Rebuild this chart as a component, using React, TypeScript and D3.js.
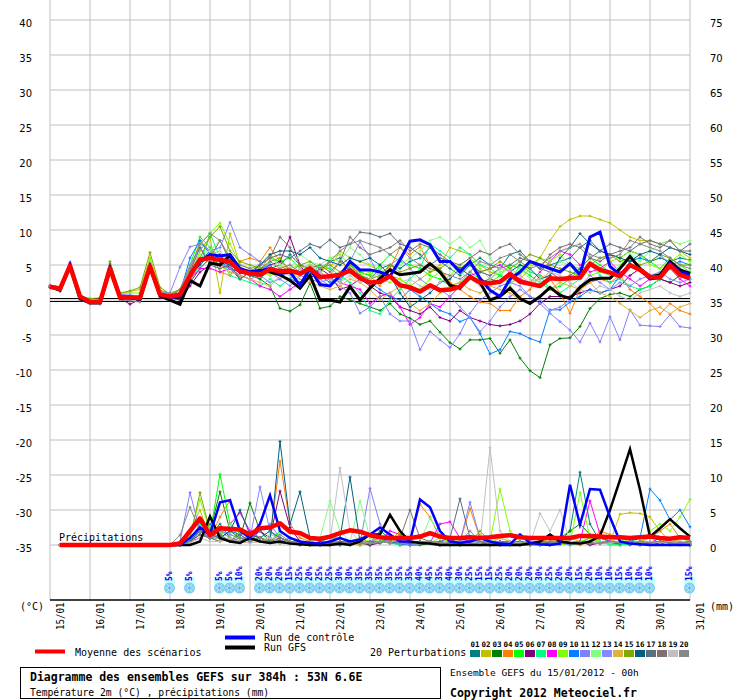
import React from 'react';
import * as d3 from 'd3';

// axis / labels
const dayLabels = ["15/01", "16/01", "17/01", "18/01", "19/01", "20/01", "21/01", "22/01", "23/01",
    "24/01", "25/01", "26/01", "27/01", "28/01", "29/01", "30/01", "31/01"];
const tempTicks = [40, 35, 30, 25, 20, 15, 10, 5, 0, -5, -10, -15, -20, -25, -30, -35];
const mmTicks = [75, 70, 65, 60, 55, 50, 45, 40, 35, 30, 25, 20, 15, 10, 5, 0];
const memberIds = ["01", "02", "03", "04", "05", "06", "07", "08", "09", "10",
    "11", "12", "13", "14", "15", "16", "17", "18", "19", "20"];
const memberColors = ["#008080", "#c0c000", "#008000", "#ff8000", "#00ff00", "#800080", "#00ff80", "#ff00ff",
    "#80ff00", "#0080ff", "#8080ff", "#80ff80", "#8888ff", "#e0b040", "#80a800", "#006080", "#587080",
    "#807070", "#c0c0c0", "#888888"];

// 2m temperature (°C), every 6h from 15/01 00h to 31/01 00h
const tempMean = [1.9, 1.6, 4.9, 0.5, -0.3, -0.3, 4.5, 0.4, 0.4, 0.3, 4.8, 0.8,
    0.5, 0.8, 3.5, 5.8, 6.0, 5.7, 5.5, 4.1, 3.8, 3.6, 4.4, 4.1, 4.2, 3.8, 4.5, 3.3,
    3.4, 3.6, 4.2, 3.1, 2.5, 2.6, 3.4, 2.1, 1.8, 1.2, 2.1, 1.4, 1.5, 1.9, 3.3, 2.5,
    2.4, 2.6, 3.7, 2.6, 2.3, 2.0, 3.1, 3.0, 3.1, 3.2, 5.2, 4.3, 3.9, 3.4, 5.0, 4.3,
    3.3, 3.2, 5.0, 3.6, 3.1];
const tempControl = [1.9, 1.5, 5.0, 0.3, -0.3, -0.3, 4.6, 0.4, 0.4, 0.2, 4.8, 0.7,
    0.4, 0.5, 3.5, 5.5, 6.5, 6.3, 6.5, 4.5, 4.0, 4.2, 4.5, 3.8, 4.0, 2.1, 4.5, 2.2,
    2.0, 3.5, 5.5, 4.3, 4.3, 4.0, 3.4, 5.7, 8.4, 8.6, 7.9, 5.5, 5.5, 4.0, 5.5, 3.1,
    1.4, 0.5, 3.0, 4.0, 5.5, 5.0, 4.5, 4.0, 5.2, 3.6, 9.0, 9.7, 4.8, 3.6, 5.0, 4.3,
    3.0, 3.2, 5.3, 4.0, 3.6];
const tempGfs = [1.9, 1.4, 4.8, 0.2, -0.4, -0.4, 4.4, 0.3, 0.3, 0.1, 4.7, 0.6,
    0.0, -0.6, 2.8, 2.0, 5.3, 5.0, 6.4, 4.0, 4.0, 4.2, 4.0, 3.6, 2.8, 1.7, 3.5, 0.0,
    0.0, -0.3, 1.9, 0.0, 1.7, 3.1, 4.3, 3.6, 3.8, 4.0, 5.2, 4.0, 2.1, 1.7, 3.3, 2.5,
    0.0, 0.5, 1.7, 0.2, -0.5, 0.5, 1.8, 0.7, 0.2, 1.8, 2.9, 3.1, 3.1, 4.5, 6.2, 4.5,
    3.3, 3.6, 5.5, 4.3, 3.8];
const temp01 = [2.0, 1.5, 5.1, 0.2, -0.4, -0.4, 4.5, 0.5, 0.4, 0.2, 4.9, 0.9,
    0.5, 1.0, 3.0, 5.5, 7.0, 6.0, 5.0, 4.0, 3.5, 3.0, 4.5, 5.0, 6.5, 5.0, 4.5, 4.0,
    5.5, 6.0, 4.0, 3.5, 3.0, 4.5, 5.0, 4.5, 5.5, 6.0, 7.5, 5.5, 4.5, 3.5, 5.0, 6.0,
    5.0, 4.5, 6.5, 7.0, 5.5, 4.5, 5.0, 5.5, 6.0, 7.5, 8.5, 7.0, 6.5, 6.0, 7.0, 6.5,
    5.5, 6.0, 5.5, 6.0, 5.7];
const temp02 = [2.0, 1.7, 5.2, 0.4, -0.2, -0.2, 4.7, 0.9, 1.2, 1.5, 6.0, 1.4,
    1.0, 1.5, 3.5, 7.0, 9.0, 1.0, 9.5, 5.0, 4.5, 4.0, 6.5, 5.0, 4.0, 3.5, 5.0, 4.5,
    4.5, 7.0, 6.0, 5.5, 5.0, 4.0, 3.5, 3.0, 2.0, 3.0, 4.0, 5.0, 7.5, 7.0, 6.5, 5.0,
    4.0, 3.5, 2.5, 3.0, 4.5, 6.0, 8.5, 10.5, 11.5, 12.0, 12.0, 11.5, 11.0, 10.0, 9.0, 8.5,
    8.5, 8.0, 8.5, 7.0, 6.0];
const temp03 = [1.9, 1.6, 5.0, 0.2, -0.3, -0.4, 4.6, 0.4, 0.3, 0.2, 4.7, 0.7,
    0.5, 0.5, 2.5, 4.5, 6.0, 5.0, 4.5, 3.0, 4.0, 3.0, 2.0, -1.2, -1.6, -0.7, 2.4, -1.2,
    -0.9, 0.5, 0.0, -0.5, -1.0, -1.5, -0.5, -2.0, -2.6, -3.5, -3.0, -4.6, -6.1, -7.0, -5.7, -5.7,
    -5.5, -7.6, -5.7, -8.3, -10.1, -11.1, -6.4, -5.5, -5.4, -3.8, -1.2, 0.2, 0.8, 1.0, 0.5, 1.5,
    2.0, 3.0, 2.5, 3.5, 3.0];
const temp04 = [1.9, 1.6, 5.0, 0.3, -0.3, -0.3, 4.6, 0.4, 0.4, 0.3, 4.8, 0.8,
    0.5, 1.0, 4.0, 8.5, 7.0, 4.0, 3.5, 5.5, 6.0, 5.5, 7.5, 5.5, 4.5, 3.5, 4.0, 3.0,
    3.5, 5.5, 4.5, 4.0, 3.5, 2.0, 4.5, 7.5, 6.5, 7.6, 5.0, 4.5, 2.5, 1.5, 0.5, -0.3,
    -0.5, -1.5, -1.5, 0.5, 1.5, 3.5, 3.0, 1.0, -1.9, 1.5, 2.5, 3.0, 2.5, 3.5, 1.5, 0.5,
    -0.5, -2.0, -0.5, -1.5, -2.0];
const temp05 = [1.9, 1.6, 5.0, 0.3, -0.3, -0.3, 4.6, 0.4, 0.4, 0.3, 4.8, 0.8,
    0.5, 1.5, 5.0, 9.0, 7.5, 6.0, 6.5, 4.0, 4.5, 5.0, 6.0, 5.5, 6.0, 4.5, 5.0, 3.5,
    3.0, 2.5, 5.0, 4.0, 3.5, 5.0, 6.5, 5.5, 5.0, 4.5, 3.5, 3.0, 2.0, 2.5, 4.0, 3.0,
    2.5, 3.5, 5.0, 4.5, 3.5, 2.5, 1.5, 2.0, 3.0, 4.5, 6.0, 5.0, 4.0, 3.5, 5.5, 6.0,
    5.5, 4.5, 6.0, 5.0, 4.0];
const temp06 = [1.8, 1.5, 4.9, 0.2, -0.4, -0.4, 4.5, 0.2, -0.6, 0.1, 4.7, 0.3,
    0.3, 0.0, 2.0, 4.0, 5.0, 6.5, 4.5, 4.0, 3.5, 4.0, 5.0, 5.5, 9.0, 5.0, 3.0, 4.5,
    3.5, 1.5, 2.0, 3.0, 2.0, 1.0, 0.5, -1.0, -1.5, -2.0, -1.0, -2.5, -3.0, -1.5, -2.5, -3.0,
    -3.5, -3.7, -3.5, -3.0, -2.0, -0.5, 0.5, 0.5, 0.5, 1.0, 1.5, 1.0, 1.5, 2.0, 3.5, 4.5,
    3.5, 3.0, 2.5, 2.0, 2.5];
const temp07 = [1.9, 1.6, 5.0, 0.3, -0.3, -0.3, 4.6, 0.4, 0.4, 0.3, 4.8, 0.8,
    0.5, 0.5, 2.7, 5.0, 9.6, 6.0, 3.5, 3.0, 2.5, 2.0, 3.0, 2.0, 3.0, 4.5, 3.5, 5.0,
    4.5, 3.5, 2.5, 1.0, -1.5, -2.0, 0.0, 1.5, 3.0, 4.5, 8.0, 7.0, 6.0, 7.5, 6.5, 5.0,
    4.5, 3.5, 2.5, 5.0, 4.0, 3.5, 1.5, 1.0, 2.0, 3.0, 5.0, 3.5, 2.5, 3.0, 2.0, 1.5,
    2.0, 3.0, 4.5, 4.5, 3.0];
const temp08 = [2.1, 1.9, 5.4, 0.5, -0.1, -0.1, 4.7, 0.7, 0.6, 0.5, 5.0, 0.9,
    0.5, 1.5, 3.0, 4.5, 4.5, 4.0, 4.5, 3.5, 3.0, 2.0, 1.5, 0.5, 1.5, 2.5, 3.5, 4.0,
    3.0, 2.5, 2.0, 1.5, -0.5, 0.5, 1.0, -1.0, -3.5, -2.5, -0.5, -1.0, 0.5, 2.0, 3.5, 4.0,
    4.5, 5.0, 4.0, 3.0, 2.5, 4.0, 5.5, 7.0, 6.5, 5.0, 4.0, 4.5, 5.5, 4.0, 3.0, 2.0,
    3.0, 3.5, 4.5, 3.0, 2.0];
const temp09 = [2.0, 1.6, 5.2, 0.4, -0.2, -0.2, 5.2, 0.9, 1.0, 1.0, 5.8, 1.2,
    0.8, 1.5, 4.5, 8.0, 9.5, 11.0, 8.0, 5.0, 4.5, 4.0, 3.5, 4.0, 4.5, 5.0, 4.0, 3.5,
    6.0, 6.5, 5.0, 3.5, 4.0, 3.0, 2.5, 3.0, 2.0, 1.5, 3.0, 4.0, 3.5, 5.0, 6.0, 4.5,
    3.0, 4.0, 4.5, 3.5, 5.0, 6.0, 5.5, 6.5, 5.0, 4.5, 3.5, 4.0, 5.5, 6.0, 7.0, 6.5,
    5.0, 4.5, 5.5, 6.5, 5.5];
const temp10 = [1.9, 1.6, 5.0, 0.3, -0.3, -0.3, 4.6, 0.4, 0.4, 0.3, 4.8, 0.8,
    0.5, 1.0, 6.0, 8.5, 6.5, 5.5, 4.5, 4.0, 3.5, 4.5, 5.0, 3.5, 3.0, 2.5, 4.0, 3.5,
    2.5, 3.0, 4.5, 3.5, 2.5, 1.5, 0.5, 0.0, 1.5, 0.5, -0.5, -1.5, -2.0, -3.1, -2.5, -4.8,
    -7.7, -7.1, -4.5, -4.8, -5.5, -6.0, -1.4, -1.4, -0.3, 0.5, 1.5, 1.0, 1.5, 3.5, 5.5, 6.0,
    5.5, 6.5, 5.0, 5.5, 5.0];
const temp11 = [2.0, 1.8, 5.2, 0.5, 0.0, 0.0, 4.8, 0.8, 0.7, 0.6, 5.0, 1.2,
    1.0, 4.7, 7.6, 8.0, 7.0, 7.5, 11.1, 7.5, 6.5, 5.5, 4.0, 3.0, 4.5, 3.5, 3.0, 2.5,
    3.0, 2.0, 1.0, -1.9, -1.0, 0.5, -2.0, -3.0, -3.0, -7.1, -4.5, -5.7, -6.8, -4.8, -1.9, 0.0,
    1.0, 2.0, 2.5, 2.0, 0.5, -0.5, -1.9, -3.1, -4.3, -6.0, -3.3, -6.0, -2.4, -5.7, -1.4, -3.6,
    -3.7, -3.8, -2.1, -3.8, -4.0];
const temp12 = [1.9, 1.6, 5.0, 0.3, -0.3, -0.3, 4.6, 0.4, 0.4, 0.3, 4.8, 0.8,
    0.5, 1.0, 4.0, 6.5, 7.0, 8.5, 6.0, 4.5, 4.0, 5.0, 6.0, 5.0, 4.5, 6.5, 5.5, 5.0,
    6.0, 5.5, 7.5, 6.5, 5.0, 4.5, 3.5, 5.0, 6.0, 7.0, 8.5, 9.0, 8.0, 9.0, 7.5, 8.5,
    6.0, 4.0, 2.0, 4.5, 3.0, 2.5, 4.0, 5.5, 5.0, 3.0, 5.5, 4.0, 3.5, 5.0, 6.5, 5.5,
    7.0, 8.0, 8.5, 8.0, 8.5];
const temp13 = [1.9, 1.6, 5.0, 0.3, -0.3, -0.3, 4.6, 0.4, 0.4, 0.3, 4.8, 0.8,
    0.8, 1.5, 5.0, 7.5, 5.5, 5.0, 4.5, 3.5, 3.0, 3.5, 2.5, 3.0, 2.0, 3.5, 4.0, 3.0,
    2.0, 3.0, 5.5, 8.3, 6.0, 3.0, 5.0, 6.0, 4.5, 3.0, 2.0, 1.5, 0.5, -1.0, -2.5, -4.5,
    -3.0, -1.0, 0.5, 1.5, 0.5, 0.0, -1.5, -1.0, 0.0, 2.0, 3.5, 2.5, 1.5, 2.5, 2.0, 3.0,
    3.5, 4.0, 3.0, 2.5, 3.0];
const temp14 = [1.9, 1.6, 5.0, 0.3, -0.3, -0.3, 4.6, 0.4, 0.4, 0.3, 4.8, 0.8,
    0.5, 1.5, 4.5, 5.5, 6.5, 5.0, 4.0, 3.5, 3.0, 2.5, 2.0, 3.5, 4.0, 3.0, 2.5, 2.0,
    1.5, 2.0, 3.0, 2.5, 1.5, 0.0, 1.0, 2.0, -0.5, -1.5, -0.5, 1.0, 2.0, 2.5, 1.5, 1.0,
    2.0, 1.5, 1.0, 0.0, -0.5, 0.5, 1.5, 2.5, 2.0, 1.5, 2.5, 1.0, 0.5, -0.5, -1.5, -2.5,
    -1.5, -1.0, -2.0, -1.0, -0.5];
const temp15 = [2.0, 1.7, 5.2, 0.6, 0.2, 0.3, 5.5, 1.0, 1.3, 1.8, 6.8, 1.8,
    0.8, 1.5, 3.0, 6.0, 9.0, 10.5, 7.0, 5.5, 5.0, 4.5, 5.5, 6.0, 4.0, 5.0, 5.5, 4.5,
    5.0, 4.0, 5.0, 3.5, 3.0, 3.5, 5.0, 4.0, 4.5, 5.0, 4.0, 4.5, 5.5, 4.5, 5.5, 4.0,
    4.5, 5.5, 4.5, 5.5, 6.5, 6.0, 5.0, 4.5, 4.0, 3.5, 5.0, 6.0, 6.5, 5.5, 6.0, 5.0,
    5.5, 6.5, 6.0, 5.0, 5.0];
const temp16 = [1.9, 1.6, 5.0, 0.3, -0.3, -0.3, 4.6, 0.4, 0.4, 0.3, 4.8, 0.8,
    0.5, 1.0, 3.5, 5.0, 6.5, 5.5, 5.0, 4.5, 4.0, 5.0, 6.5, 7.0, 7.0, 6.5, 7.5, 6.0,
    5.5, 5.0, 6.0, 5.5, 6.0, 5.0, 3.5, 1.0, -1.0, 0.0, 1.0, 2.5, 3.0, 4.5, 3.5, 2.5,
    3.0, 2.5, 4.0, 5.0, 4.5, 3.0, 3.5, 6.0, 7.5, 9.5, 8.0, 7.0, 6.5, 6.0, 5.5, 6.5,
    7.0, 6.5, 7.5, 7.0, 6.5];
const temp17 = [1.9, 1.6, 5.0, 0.3, -0.3, -0.3, 4.6, 0.4, 0.4, 0.3, 4.8, 0.8,
    0.5, 1.0, 4.0, 7.5, 5.0, 4.5, 5.0, 3.0, 4.0, 5.0, 6.0, 6.5, 6.0, 7.0, 8.0, 7.5,
    8.6, 7.5, 8.0, 9.7, 9.5, 9.0, 9.5, 8.0, 7.5, 6.5, 5.0, 6.0, 5.5, 4.5, 5.0, 4.0,
    3.5, 4.5, 5.0, 6.0, 5.5, 4.5, 4.0, 3.0, 3.5, 4.5, 6.0, 7.0, 8.0, 7.5, 7.0, 8.0,
    8.5, 8.0, 7.5, 7.0, 8.0];
const temp18 = [1.9, 1.6, 5.0, 0.3, -0.3, -0.3, 4.6, 0.4, 0.4, 0.3, 4.8, 0.8,
    0.5, 1.0, 3.0, 5.5, 6.0, 8.5, 5.5, 4.5, 3.5, 5.0, 6.0, 9.0, 7.5, 5.0, 4.5, 5.0,
    4.0, 5.5, 9.0, 7.5, 6.5, 7.0, 7.5, 8.5, 7.0, 8.0, 7.5, 6.5, 5.5, 5.0, 6.0, 7.0,
    6.5, 7.5, 8.0, 6.5, 5.5, 4.5, 6.5, 7.5, 8.0, 7.5, 6.0, 5.5, 6.5, 7.0, 7.5, 9.0,
    8.0, 7.5, 8.5, 7.0, 7.0];
const temp19 = [1.9, 1.6, 5.0, 0.3, -0.3, -0.3, 4.6, 0.4, 0.4, 0.3, 4.8, 0.8,
    0.5, 0.5, 3.0, 5.5, 6.5, 7.0, 5.5, 4.5, 4.0, 3.5, 4.5, 4.0, 3.5, 4.5, 5.0, 4.0,
    3.0, 2.5, 3.5, 2.5, 3.0, 4.0, 3.5, 2.5, 3.0, 2.0, 1.5, 2.5, 3.5, 4.0, 3.0, 2.0,
    3.0, 4.5, 4.0, 3.5, 2.5, 3.0, 4.0, 3.5, 2.5, 1.5, 1.0, 2.0, 1.5, 0.5, 0.0, 1.0,
    1.5, 2.0, 1.0, 0.5, 1.0];
const temp20 = [1.8, 1.2, 4.7, 0.0, -0.6, -0.6, 4.3, 0.0, -0.1, -0.3, 4.5, 0.5,
    0.5, 1.5, 4.5, 8.0, 9.5, 8.5, 6.0, 5.0, 4.5, 4.0, 5.5, 4.5, 5.0, 4.0, 3.5, 4.5,
    5.5, 7.0, 8.0, 8.5, 8.0, 7.5, 6.5, 7.5, 6.0, 5.0, 4.5, 4.0, 3.5, 3.0, 4.0, 5.5,
    5.0, 6.0, 6.5, 5.5, 4.5, 5.0, 6.0, 7.0, 7.5, 8.0, 6.5, 6.0, 6.0, 6.5, 8.5, 8.0,
    7.5, 7.0, 6.0, 5.0, 4.5];

// precipitation (mm / 6h), from 15/01 06h to 31/01 00h
const precipMean = [0, 0, 0, 0, 0, 0, 0, 0, 0, 0, 0, 0,
    0.2, 2.0, 3.8, 1.4, 2.4, 2.3, 2.2, 1.5, 2.4, 2.5, 3.1, 1.9, 1.7, 1.0, 0.9, 1.2,
    1.7, 2.1, 1.9, 1.4, 1.1, 1.0, 1.0, 1.0, 1.2, 1.7, 1.2, 1.0, 1.0, 1.1, 1.0, 1.1,
    1.3, 1.4, 1.1, 1.0, 1.0, 1.0, 1.0, 1.0, 1.3, 1.3, 1.2, 1.1, 1.1, 1.0, 1.1, 1.2,
    1.0, 0.9, 1.1, 1.0];
const precipControl = [0, 0, 0, 0, 0, 0, 0, 0, 0, 0, 0, 0,
    0, 1.0, 2.5, 1.5, 6.1, 6.4, 2.0, 1.0, 3.0, 7.1, 2.0, 1.0, 0.5, 0.3, 0.2, 0.5,
    1.0, 0.5, 0.8, 1.5, 2.5, 1.5, 0.5, 0.5, 6.5, 5.4, 2.0, 0.5, 0.3, 0.5, 1.0, 0.5,
    0.2, 0.1, 1.5, 0.3, 0.1, 0, 0.2, 8.6, 2.9, 8.0, 7.9, 4.0, 0.5, 0.2, 0.1, 0,
    0, 0, 0, 0];
const precipGfs = [0, 0, 0, 0, 0, 0, 0, 0, 0, 0, 0, 0,
    0, 0, 0.5, 4.1, 1.0, 0.5, 0.3, 1.0, 0.5, 0.3, 0.5, 0.2, 0.1, 0, 0, 0,
    0.2, 0, 0.5, 1.5, 1.5, 4.3, 2.0, 0.5, 0.3, 0.2, 0, 0, 0, 0, 0, 0,
    0, 0, 0, 0.2, 0.5, 1.5, 0.5, 0.3, 0.2, 0.5, 1.3, 5.0, 9.3, 13.7, 7.9, 1.2,
    2.4, 3.7, 2.4, 1.2];
const precip01 = [0, 0, 0, 0, 0, 0, 0, 0, 0, 0, 0, 0,
    0, 1, 2, 1.5, 3, 1, 0.5, 1, 2, 0.5, 0.3, 1, 0.5, 0, 0.5, 1,
    1, 0.5, 0, 0.3, 2, 1, 0.5, 0, 0.3, 0.5, 0.2, 0, 0, 0.5, 1, 0.3,
    0.5, 0, 0.3, 0.5, 0.2, 0, 1, 2, 10.4, 3, 0.5, 0.3, 0.2, 0, 0.3, 0.5,
    0.2, 0, 0.3, 0.5];
const precip02 = [0, 0, 0, 0, 0, 0, 0, 0, 0, 0, 0, 0,
    0, 2, 5, 1, 1.5, 0.5, 0.3, 1, 0.5, 1, 0.3, 0.5, 0, 0.3, 0, 0.5,
    0.2, 0, 0.3, 0.5, 0.5, 1, 0.3, 0, 0.5, 0.3, 0, 0.2, 0, 0.5, 1.5, 0.5,
    0, 0.3, 0, 0.5, 0.3, 1, 0.5, 0.2, 0.5, 1, 0.5, 0.3, 4.4, 4.6, 4.5, 4.0,
    2, 0.5, 0.3, 0.2];
const precip03 = [0, 0, 0, 0, 0, 0, 0, 0, 0, 0, 0, 0,
    0, 0.5, 3, 2, 7.6, 2, 1, 6, 2, 0.5, 0.3, 0.2, 0, 0.3, 0, 0,
    0.2, 0, 0.5, 0, 0.5, 1, 0.3, 0, 0, 0.2, 0.5, 0.3, 0, 0.2, 0, 0.5,
    0.3, 0.5, 0, 0, 0, 0.3, 0.5, 2, 3, 1.5, 1, 0.5, 0, 0.3, 0.5, 0.2,
    0.5, 0.3, 0, 0.2];
const precip04 = [0, 0, 0, 0, 0, 0, 0, 0, 0, 0, 0, 0,
    0, 1, 2, 1, 4, 6.4, 2, 1, 0.5, 1, 12, 3, 1, 0.5, 0.3, 0,
    0.2, 0.5, 1, 0.3, 1, 0.5, 2, 0.5, 5.8, 4, 1, 0.5, 0.5, 5.2, 1, 0.3,
    0.5, 0.3, 0, 0.5, 0.5, 0, 0.3, 0.5, 0, 0.5, 2, 1.5, 0.5, 0.3, 0.5, 1,
    2, 3, 1, 0.5];
const precip05 = [0, 0, 0, 0, 0, 0, 0, 0, 0, 0, 0, 0,
    0, 0.5, 2, 1.5, 10.1, 3, 1, 0.5, 1, 0.5, 2, 1, 0.3, 0, 0.2, 0,
    0, 0.5, 0.3, 0, 0.5, 1, 0, 0.3, 0.5, 0.2, 0, 0, 0.3, 0.5, 0.2, 0,
    0.5, 0, 0.2, 0.3, 0, 0.5, 0.2, 0, 0.3, 1, 0.5, 0.2, 0, 0.3, 0, 0.2,
    0.5, 0.3, 0.2, 0];
const precip06 = [0, 0, 0, 0, 0, 0, 0, 0, 0, 0, 0, 0,
    0, 0.5, 1.5, 1, 2, 1, 0.5, 1, 2, 1, 7.7, 2.5, 0.5, 0.3, 0, 0.2,
    0, 0.5, 0.2, 0, 0.3, 0.5, 0, 0.2, 0.5, 0.3, 0, 0.5, 1, 0.5, 0.2, 0,
    0, 0.3, 0.5, 0.2, 0, 0.2, 0.5, 0.3, 0.5, 0, 0.3, 0.2, 0.5, 0.2, 0, 0.3,
    0.2, 0.5, 0.3, 0];
const precip07 = [0, 0, 0, 0, 0, 0, 0, 0, 0, 0, 0, 0,
    0, 0.5, 3, 1, 2, 1.5, 1, 0.5, 1, 0.5, 1, 0.5, 0.3, 0, 0, 0,
    0, 0.2, 0, 0.3, 0.5, 0.3, 0, 0, 0.5, 0.3, 0.5, 0, 0, 0.3, 0.5, 0.5,
    0.2, 0, 0.3, 0, 0, 0.5, 0.3, 0.2, 0.5, 0.2, 0.5, 0, 0, 0.2, 0.5, 0.3,
    1, 0.5, 0.2, 0];
const precip08 = [0, 0, 0, 0, 0, 0, 0, 0, 0, 0, 0, 0,
    0, 0.5, 1, 2, 1.5, 3, 4.6, 2, 1, 0.5, 1, 0.5, 0.5, 0.3, 0, 0,
    0.3, 0.5, 0.2, 0.5, 0.5, 2, 1.5, 0.5, 0.5, 0.3, 3, 3.3, 1, 0.3, 0.5, 0.2,
    0.5, 0.3, 0.5, 0, 0.3, 0.5, 1, 0.5, 0.5, 6.3, 1.5, 0.5, 0.3, 0.5, 0.2, 0.3,
    1, 0.5, 0.3, 0.5];
const precip09 = [0, 0, 0, 0, 0, 0, 0, 0, 0, 0, 0, 0,
    0, 1.5, 6.5, 2, 2, 1, 0.5, 1.5, 1, 0.5, 0.3, 1, 0.5, 0.2, 0, 0.3,
    0.5, 0.3, 1, 0.5, 1, 0.3, 0.5, 0.2, 0.5, 0.3, 1, 0.5, 0, 0.5, 0.3, 0.5,
    8, 2, 0.5, 0.3, 0.5, 0.3, 0, 0.2, 7.5, 1, 0.5, 0.3, 0.5, 1, 0.3, 2,
    3, 2, 4, 6.5];
const precip10 = [0, 0, 0, 0, 0, 0, 0, 0, 0, 0, 0, 0,
    0, 0.5, 2, 3, 1, 2, 1.5, 0.5, 1, 2, 1, 0.5, 0.5, 0.3, 0, 0.2,
    0, 0.5, 0.3, 0.2, 0.5, 0.3, 0.2, 0, 0.5, 0.3, 0, 0.2, 0, 0.5, 0.3, 0.2,
    0, 0.3, 0.5, 0.3, 0.5, 0, 0.3, 0.5, 0.5, 0.3, 0.5, 0.3, 0.2, 0.5, 1, 8,
    6.4, 3.6, 5.0, 2.6];
const precip11 = [0, 0, 0, 0, 0, 0, 0, 0, 0, 0, 0, 0,
    0.5, 7.5, 2, 1, 1.5, 0.5, 1, 0.5, 2, 3, 1, 0.5, 0.3, 0.5, 0, 0.3,
    0.5, 0.3, 0.2, 8.1, 3, 1, 0.5, 0.3, 0.5, 0.3, 0.2, 0.5, 0.5, 6.1, 1, 0.5,
    0.3, 0.5, 0.2, 0, 0.3, 0.5, 0.2, 0.5, 0.5, 0.3, 0.2, 0.5, 0.3, 0.5, 0.2, 0,
    0.5, 0.3, 0.5, 0.2];
const precip12 = [0, 0, 0, 0, 0, 0, 0, 0, 0, 0, 0, 0,
    0, 0.5, 2, 1.5, 1, 3, 2, 1, 0.5, 1.5, 1, 0.5, 0.3, 0.5, 1, 6.3,
    2, 0.5, 6.3, 1, 0.5, 0.3, 0.2, 0.5, 0.5, 3.8, 1.5, 1, 0.5, 0.3, 0.2, 0.5,
    1, 0.5, 0.3, 0.5, 0.2, 0.5, 1, 0.5, 0.5, 0.3, 0.5, 0.2, 0.5, 1, 0.3, 0.2,
    0.5, 0.3, 1, 0.5];
const precip13 = [0, 0, 0, 0, 0, 0, 0, 0, 0, 0, 0, 0,
    0, 1, 2.5, 1, 2, 1.5, 1, 1, 8.3, 2, 0.5, 1, 0.5, 0.3, 0.2, 0,
    0.3, 0.5, 0.2, 0.5, 1, 0.5, 0.3, 0, 0.2, 0.5, 0.3, 0.2, 0.5, 1, 0.5, 0.3,
    0.2, 0.5, 0, 0.3, 0.5, 0.2, 0.3, 0, 0.5, 0.3, 0.2, 0.5, 0.3, 0.2, 0, 0.5,
    0.3, 0.5, 0.2, 0.3];
const precip14 = [0, 0, 0, 0, 0, 0, 0, 0, 0, 0, 0, 0,
    0, 0.3, 1.5, 1, 0.5, 1, 0.5, 0.3, 0.5, 1, 0.5, 0.3, 0.2, 0, 0.3, 0,
    0.5, 0.2, 0, 0.3, 0.5, 1.5, 0.5, 0.2, 0.3, 0.5, 0, 0.2, 0, 0.3, 0.5, 0.2,
    1, 0.5, 0.3, 0, 0.5, 0.3, 0.5, 1, 0.5, 0.3, 0.2, 0.5, 1, 0.5, 0.3, 0.2,
    0.5, 1, 0.5, 0.3];
const precip15 = [0, 0, 0, 0, 0, 0, 0, 0, 0, 0, 0, 0,
    0, 1, 7.5, 2, 1, 0.5, 2, 1.5, 1, 0.5, 1, 0.5, 0.3, 0.2, 0, 0.3,
    0.5, 0.3, 0.5, 0.2, 0.3, 0.5, 1.5, 0.5, 0.3, 0.5, 0.2, 0, 0.5, 0.3, 2, 0.5,
    0.3, 0.5, 0.2, 0.3, 0.5, 0.3, 0.5, 0.2, 0.3, 0.5, 0.2, 0.3, 0.5, 0.3, 0.2, 0.5,
    0.3, 0.5, 0.2, 0];
const precip16 = [0, 0, 0, 0, 0, 0, 0, 0, 0, 0, 0, 0,
    0, 0.5, 2, 1.5, 1, 2, 5, 1.5, 1, 0.5, 14.8, 3, 7.6, 1, 0.5, 0.3,
    1, 9.7, 0.5, 0.3, 0.5, 0.3, 0.5, 0.2, 0.5, 0.3, 0.2, 0.5, 0.3, 0.5, 0.2, 0,
    0.5, 0.3, 0.2, 0.5, 0.3, 0.2, 0.5, 0.3, 0.5, 0.3, 0.2, 0.5, 0.3, 0.5, 0.2, 0.3,
    0.5, 0.3, 0.2, 0];
const precip17 = [0, 0, 0, 0, 0, 0, 0, 0, 0, 0, 0, 0,
    0, 0.5, 1.5, 1, 1, 0.5, 1.5, 0.5, 1, 2, 1, 0.5, 0.3, 0.5, 0.2, 0,
    0.5, 0.3, 0.2, 0.5, 0.3, 1, 0.5, 0.3, 0.5, 0.3, 0.5, 1, 6.6, 1, 0.5, 0.3,
    0.2, 0.5, 0.3, 0.2, 0.5, 0.3, 0.2, 0.5, 0.3, 0.5, 1, 0.5, 0.3, 0.2, 0.5, 0.3,
    0.5, 0.3, 0.2, 0.5];
const precip18 = [0, 0, 0, 0, 0, 0, 0, 0, 0, 0, 0, 0,
    0, 1, 2, 1, 0.5, 1, 0.5, 1.5, 0.5, 0.3, 1, 0.5, 0.2, 0, 0.3, 0.5,
    0.3, 0.2, 0.5, 0.3, 0.5, 0.3, 1, 5, 1, 0.5, 0.3, 0.2, 0.5, 0.3, 0.2, 0.5,
    0.3, 0.5, 0.2, 0, 0.3, 0.5, 0.2, 0.3, 0.5, 0.2, 0.3, 0.5, 0.3, 0.5, 0.2, 0.3,
    0.5, 0.2, 0.3, 0];
const precip19 = [0, 0, 0, 0, 0, 0, 0, 0, 0, 0, 0, 0,
    0, 0.3, 1, 0.5, 0.5, 1, 0.5, 0.3, 0.5, 1, 0.5, 0.3, 0.5, 0.3, 0.2, 0.5,
    11, 2, 0.5, 0.3, 0.5, 0.3, 1, 0.5, 0.3, 0.5, 0.2, 0.5, 0.3, 0.5, 0.2, 13.9,
    2, 0.5, 0.3, 0.2, 4.5, 2, 5, 0.5, 0.3, 0.5, 0.2, 0.3, 0.5, 0.3, 0.2, 0.5,
    0.3, 0.5, 0.2, 0.3];
const precip20 = [0, 0, 0, 0, 0, 0, 0, 0, 0, 0, 0, 0,
    1.4, 5.4, 2, 1, 1.5, 0.5, 1, 0.5, 1, 0.5, 1.5, 0.5, 0.5, 0.3, 0.2, 0.5,
    0.3, 0.5, 0.2, 0.3, 0.5, 0.3, 0.2, 0.5, 0.3, 0.5, 0.2, 0.3, 0.5, 2, 0.5, 0.3,
    0.5, 0.3, 0.2, 0.5, 0.3, 0.5, 0.2, 0.3, 0.5, 0.3, 0.2, 0.5, 0.3, 0.2, 0.5, 0.3,
    0.5, 0.3, 0.2, 0.3];

// snow risk (6h step index, percentage)
const snowSteps = [12, 14, 17, 18, 19, 21, 22, 23, 24, 25, 26, 27, 28, 29, 30, 31, 32, 33, 34, 35, 36,
    37, 38, 39, 40, 41, 42, 43, 44, 45, 46, 47, 48, 49, 50, 51, 52, 53, 54, 55, 56, 57, 58, 59, 60, 64];
const snowPercent = ["5%", "5%", "5%", "5%", "10%", "20%", "20%", "20%", "15%", "25%", "20%", "25%", "25%",
    "30%", "30%", "35%", "35%", "35%", "35%", "35%", "35%", "40%", "45%", "35%", "40%", "30%", "25%", "15%",
    "15%", "25%", "20%", "20%", "20%", "30%", "25%", "20%", "20%", "15%", "20%", "10%", "10%", "15%", "10%",
    "10%", "10%", "15%"];

const tempMembers = [temp01, temp02, temp03, temp04, temp05, temp06, temp07, temp08, temp09, temp10,
    temp11, temp12, temp13, temp14, temp15, temp16, temp17, temp18, temp19, temp20];
const precipMembers = [precip01, precip02, precip03, precip04, precip05, precip06, precip07, precip08,
    precip09, precip10, precip11, precip12, precip13, precip14, precip15, precip16, precip17, precip18,
    precip19, precip20];

const MONO = "'DejaVu Sans Mono', monospace";
const SANS = "'DejaVu Sans', sans-serif";

const App: React.FC = () => {
    const width = 740;
    const height = 700;

    const x = d3.scaleLinear().domain([0, 64]).range([50, 690]);
    const dayX = d3.scaleLinear().domain([0, 16]).range([50, 690]);
    const yT = d3.scaleLinear().domain([-35, 40]).range([545, 20]);
    const yMm = d3.scaleLinear().domain([0, 75]).range([545, 20]);

    const tempLine = d3.line<number>().x((_, i) => x(i)).y(d => yT(d));
    const precipLine = d3.line<number>().x((_, i) => x(i + 1)).y(d => yMm(d));

    // small "+" markers on the perturbation curves
    const crosses = (vals: number[], fx: (i: number) => number, fy: (v: number) => number) =>
        vals.map((v, i) => {
            const px = fx(i), py = fy(v);
            return `M${px - 1.5},${py}h3M${px},${py - 1.5}v3`;
        }).join("");

    return (
        <div style={{position: "absolute", left: 0, top: 0}}>
            <svg width={width} height={height} style={{display: "block", background: "#fff"}}>
                {/* grid */}
                <g stroke="#c0c0c0" strokeWidth={1}>
                    {dayLabels.map((_, k) => (
                        <line key={"v" + k} x1={dayX(k)} x2={dayX(k)} y1={0} y2={600}/>
                    ))}
                    {tempTicks.map(t => (
                        <line key={"h" + t} x1={50} x2={690} y1={yT(t)} y2={yT(t)}/>
                    ))}
                </g>
                {/* 0°C double line */}
                <line x1={50} x2={690} y1={yT(0) - 1.5} y2={yT(0) - 1.5} stroke="#000" strokeWidth={1}/>
                <line x1={50} x2={690} y1={yT(0) + 1.5} y2={yT(0) + 1.5} stroke="#000" strokeWidth={1}/>
                <line x1={50} x2={690} y1={600} y2={600} stroke="#000" strokeWidth={1.5}/>

                {/* axis labels */}
                <g fontFamily={SANS} fontSize={10} fill="#000">
                    {tempTicks.map(t => (
                        <text key={"lt" + t} x={32} y={yT(t) + 7} textAnchor="end">{t}</text>
                    ))}
                    {mmTicks.map(t => (
                        <text key={"rt" + t} x={710} y={yMm(t) + 7}>{t}</text>
                    ))}
                </g>
                <g fontFamily={MONO} fontSize={10} fill="#000">
                    {dayLabels.map((d, k) => (
                        <text key={"d" + k}
                              transform={`translate(${dayX(k) + 14},630) rotate(-90) scale(0.92,1.12)`}>{d}</text>
                    ))}
                    <text x={20} y={610}>(°C)</text>
                    <text x={710} y={610}>(mm)</text>
                    <text x={59} y={541}>Précipitations</text>
                </g>

                {/* perturbations: temperature */}
                {tempMembers.map((vals, m) => (
                    <g key={"tm" + m} stroke={memberColors[m]} fill="none" strokeWidth={1}>
                        <path d={tempLine(vals) || ""}/>
                        <path d={crosses(vals, i => x(i), v => yT(v))}/>
                    </g>
                ))}
                {/* perturbations: precipitation */}
                {precipMembers.map((vals, m) => (
                    <g key={"pm" + m} stroke={memberColors[m]} fill="none" strokeWidth={1}>
                        <path d={precipLine(vals) || ""}/>
                        <path d={crosses(vals, i => x(i + 1), v => yMm(v))}/>
                    </g>
                ))}

                {/* GFS + control */}
                <path d={tempLine(tempGfs) || ""} fill="none" stroke="#000" strokeWidth={3}/>
                <path d={precipLine(precipGfs) || ""} fill="none" stroke="#000" strokeWidth={2.5}/>
                <path d={tempLine(tempControl) || ""} fill="none" stroke="#0000ff" strokeWidth={3}/>
                <path d={precipLine(precipControl) || ""} fill="none" stroke="#0000ff" strokeWidth={2.5}/>

                {/* ensemble mean */}
                <path d={tempLine(tempMean) || ""} fill="none" stroke="#ff0000" strokeWidth={4.5}
                      strokeLinejoin="round"/>
                <path d={precipLine(precipMean) || ""} fill="none" stroke="#ff0000" strokeWidth={4.5}
                      strokeLinejoin="round"/>

                {/* snow risk */}
                <g>
                    {snowSteps.map((s, k) => (
                        <rect key={"sb" + k} x={x(s) - 6} y={577} width={11} height={7} fill="#c8ffff"/>
                    ))}
                    {snowSteps.map((s, k) => {
                        const cx = x(s) - 0.5;
                        return (
                            <g key={"sf" + k}>
                                <circle cx={cx} cy={588} r={5.5} fill="#7fcff2"/>
                                <path d={`M${cx - 4},588h8M${cx - 2},${584.5}l4,7M${cx + 2},${584.5}l-4,7`}
                                      stroke="#c8f0ff" strokeWidth={1}/>
                                <circle cx={cx} cy={588} r={1.3} fill="#4fb0e0"/>
                            </g>
                        );
                    })}
                    <g fontFamily={MONO} fontSize={8} fontWeight="bold" fill="#0000ff">
                        {snowSteps.map((s, k) => (
                            <text key={"sp" + k}
                                  transform={`translate(${x(s) + 2},581) rotate(-90)`}>{snowPercent[k]}</text>
                        ))}
                    </g>
                </g>

                {/* legend */}
                <line x1={35} x2={65} y1={651.5} y2={651.5} stroke="#ff0000" strokeWidth={4}/>
                <line x1={225} x2={255} y1={637.5} y2={637.5} stroke="#0000ff" strokeWidth={4}/>
                <line x1={225} x2={255} y1={647.5} y2={647.5} stroke="#000" strokeWidth={4}/>
                <g fontFamily={MONO} fontSize={10} fill="#000">
                    <text x={75} y={656}>Moyenne des scénarios</text>
                    <text x={264} y={641}>Run de contrôle</text>
                    <text x={264} y={651}>Run GFS</text>
                    <text x={370} y={656}>20 Perturbations</text>
                </g>
                {memberIds.map((id, m) => (
                    <g key={"lg" + id}>
                        <rect x={470 + m * 11} y={650} width={10} height={7} fill={memberColors[m]}/>
                        <text x={475 + m * 11} y={647} textAnchor="middle" fontFamily={MONO} fontSize={7.5}
                              fontWeight="bold">{id}</text>
                    </g>
                ))}

                {/* footer */}
                <rect x={20.5} y={667.5} width={420} height={31} fill="none" stroke="#000" strokeWidth={1}/>
                <text x={30} y={681} fontFamily={MONO} fontSize={11.5} fontWeight="bold">
                    Diagramme des ensembles GEFS sur 384h : 53N 6.6E
                </text>
                <text x={30} y={696} fontFamily={MONO} fontSize={9.7}>
                    Température 2m (°C) , précipitations (mm)
                </text>
                <text x={450} y={676} fontFamily={MONO} fontSize={9.5}>Ensemble GEFS du 15/01/2012 - 00h</text>
                <text x={450} y={697} fontFamily={MONO} fontSize={11.5} fontWeight="bold">
                    Copyright 2012 Meteociel.fr
                </text>
            </svg>
        </div>
    );
};

export default App;
